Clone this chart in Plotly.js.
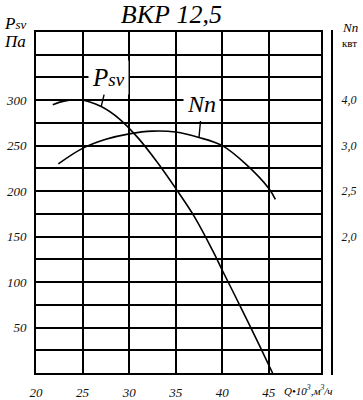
<!DOCTYPE html>
<html>
<head>
<meta charset="utf-8">
<script src="https://cdn.plot.ly/plotly-3.0.1.min.js"></script>
<style>html,body{margin:0;padding:0;background:#fff;}#chart{width:363px;height:400px;}</style>
</head>
<body>
<div id="chart"></div>
<script>
// Psv pressure curve (Па) vs Q (×10³ м³/ч)
const psvQ = [21.8, 23, 25, 27, 29, 31, 33, 35, 37, 39, 40, 42, 44, 45.4];
const psvP = [295, 299, 300, 293, 279, 258, 232, 203, 172, 134, 113, 72, 30, 0];
// Nn power curve (кВт) vs Q
const nnQ = [22.4, 25, 27.5, 30, 32.5, 35, 37.5, 40, 42.5, 45, 45.7];
const nnKw = [2.80, 2.97, 3.14, 3.26, 3.32, 3.30, 3.18, 3.00, 2.80, 2.53, 2.41];
// Axis ticks
const xTicks = [20, 25, 30, 35, 40, 45];
const yTicks = [50, 100, 150, 200, 250, 300];
const yGridStep = 25;
// Right (Nn) axis: printed labels sit at these left-axis levels (non-uniform scale)
const nnTickKw = [2.0, 2.5, 3.0, 4.0];
const nnTickText = ['2,0', '2,5', '3,0', '4,0'];
const nnTickPos = [150, 200, 250, 300];

function kwToPos(v) {
  let i = 0;
  if (v > nnTickKw[0]) {
    for (i = 0; i < nnTickKw.length - 2; i++) if (v <= nnTickKw[i + 1]) break;
  }
  const k0 = nnTickKw[i], k1 = nnTickKw[i + 1], p0 = nnTickPos[i], p1 = nnTickPos[i + 1];
  return p0 + (v - k0) * (p1 - p0) / (k1 - k0);
}
const nnPos = nnKw.map(kwToPos);

const serif = 'Liberation Serif, Times New Roman, serif';
const tickFont = {family: serif, size: 13, color: '#111', style: 'italic'};

const traces = [
  {x: psvQ, y: psvP, mode: 'lines', line: {color: '#000', width: 1.6, shape: 'spline'}, hoverinfo: 'skip', yaxis: 'y'},
  {x: nnQ, y: nnPos, mode: 'lines', line: {color: '#000', width: 1.6, shape: 'spline'}, hoverinfo: 'skip', yaxis: 'y2'}
];

const layout = {
  width: 363, height: 400,
  margin: {l: 36, r: 42, t: 32, b: 27, pad: 0},
  paper_bgcolor: '#fff', plot_bgcolor: '#fff',
  showlegend: false,
  title: {text: 'ВКР 12,5', font: {family: serif, size: 26, color: '#000', style: 'italic'},
          xref: 'paper', x: 0.475, xanchor: 'center', yref: 'container', y: 0.965, yanchor: 'middle'},
  xaxis: {
    range: [20, 50.6], tickmode: 'array', tickvals: xTicks, ticktext: xTicks.map(String),
    showgrid: true, gridcolor: '#000', gridwidth: 2,
    showline: true, mirror: true, linecolor: '#000', linewidth: 2,
    zeroline: false, ticks: 'outside', ticklen: 6, tickcolor: 'rgba(0,0,0,0)',
    tickfont: tickFont, fixedrange: true
  },
  yaxis: {
    range: [0, 375], tickmode: 'array', tickvals: yTicks, ticktext: yTicks.map(String),
    showgrid: true, gridcolor: '#000', gridwidth: 2,
    minor: {tickmode: 'linear', tick0: 0, dtick: yGridStep, showgrid: true, gridcolor: '#000', gridwidth: 2, ticks: ''},
    showline: true, mirror: true, linecolor: '#000', linewidth: 2,
    zeroline: false, ticks: 'outside', ticklen: 5, tickcolor: 'rgba(0,0,0,0)',
    tickfont: tickFont, fixedrange: true
  },
  yaxis2: {
    range: [0, 375], overlaying: 'y', side: 'right', tickmode: 'array',
    tickvals: nnTickPos, ticktext: nnTickText,
    showgrid: false, showline: false, zeroline: false,
    ticks: 'outside', ticklen: 17, tickcolor: 'rgba(0,0,0,0)',
    tickfont: {family: serif, size: 12, color: '#111', style: 'italic'}, fixedrange: true
  },
  shapes: [
    {type: 'line', xref: 'paper', yref: 'paper', x0: 1.0386, x1: 1.0386, y0: -0.006, y1: 1.006,
     line: {color: '#000', width: 2}}
  ],
  annotations: [
    {text: "P<span style='font-size:19px'>sv</span>", xref: 'x', yref: 'y', x: psvQ[3], y: psvP[3],
     showarrow: true, arrowhead: 0, arrowwidth: 1.4, arrowcolor: '#000', ax: 7, ay: -29,
     bgcolor: '#fff', borderpad: 3,
     font: {family: serif, size: 25, color: '#000', style: 'italic'}},
    {text: 'Nn', xref: 'x', yref: 'y2', x: nnQ[6], y: nnPos[6],
     showarrow: true, arrowhead: 0, arrowwidth: 1.4, arrowcolor: '#000', ax: 3, ay: -33,
     bgcolor: '#fff', borderpad: 3,
     font: {family: serif, size: 24, color: '#000', style: 'italic'}},
    {text: "P<span style='font-size:13px'>sv</span>", xref: 'paper', yref: 'paper', x: -0.118, y: 1.024, xanchor: 'left', yanchor: 'middle',
     showarrow: false, font: {family: serif, size: 17, color: '#000', style: 'italic'}},
    {text: 'Па', xref: 'paper', yref: 'paper', x: -0.118, y: 0.973, xanchor: 'left', yanchor: 'middle',
     showarrow: false, font: {family: serif, size: 17, color: '#000', style: 'italic'}},
    {text: 'Nn', xref: 'paper', yref: 'paper', x: 1.066, y: 1.013, xanchor: 'left', yanchor: 'middle',
     showarrow: false, font: {family: serif, size: 13, color: '#000', style: 'italic'}},
    {text: 'квт', xref: 'paper', yref: 'paper', x: 1.066, y: 0.968, xanchor: 'left', yanchor: 'middle',
     showarrow: false, font: {family: serif, size: 11, color: '#000'}},
    {text: 'Q•10<sup>3</sup>,м<sup>3</sup>/ч', xref: 'paper', yref: 'paper', x: 0.863, y: -0.05, xanchor: 'left', yanchor: 'middle',
     showarrow: false, font: {family: serif, size: 11, color: '#000', style: 'italic'}}
  ]
};

Plotly.newPlot('chart', traces, layout, {staticPlot: true, displayModeBar: false});
</script>
</body>
</html>
